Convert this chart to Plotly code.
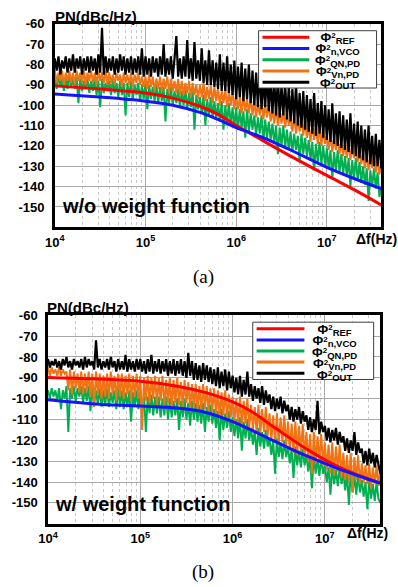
import plotly.graph_objects as go

# ---------------- data ----------------
# shared frequency grid (log10 of offset frequency in Hz), 4.00 ... 7.60
F_EXP = [4.00,4.02,4.04,4.06,4.08,4.10,4.12,4.14,4.16,4.18,
         4.20,4.22,4.24,4.26,4.28,4.30,4.32,4.34,4.36,4.38,
         4.40,4.42,4.44,4.46,4.48,4.50,4.52,4.54,4.56,4.58,
         4.60,4.62,4.64,4.66,4.68,4.70,4.72,4.74,4.76,4.78,
         4.80,4.82,4.84,4.86,4.88,4.90,4.92,4.94,4.96,4.98,
         5.00,5.02,5.04,5.06,5.08,5.10,5.12,5.14,5.16,5.18,
         5.20,5.22,5.24,5.26,5.28,5.30,5.32,5.34,5.36,5.38,
         5.40,5.42,5.44,5.46,5.48,5.50,5.52,5.54,5.56,5.58,
         5.60,5.62,5.64,5.66,5.68,5.70,5.72,5.74,5.76,5.78,
         5.80,5.82,5.84,5.86,5.88,5.90,5.92,5.94,5.96,5.98,
         6.00,6.02,6.04,6.06,6.08,6.10,6.12,6.14,6.16,6.18,
         6.20,6.22,6.24,6.26,6.28,6.30,6.32,6.34,6.36,6.38,
         6.40,6.42,6.44,6.46,6.48,6.50,6.52,6.54,6.56,6.58,
         6.60,6.62,6.64,6.66,6.68,6.70,6.72,6.74,6.76,6.78,
         6.80,6.82,6.84,6.86,6.88,6.90,6.92,6.94,6.96,6.98,
         7.00,7.02,7.04,7.06,7.08,7.10,7.12,7.14,7.16,7.18,
         7.20,7.22,7.24,7.26,7.28,7.30,7.32,7.34,7.36,7.38,
         7.40,7.42,7.44,7.46,7.48,7.50,7.52,7.54,7.56,7.58,
         7.60]

# (a) w/o weight function
OUT_A = [-77,-83,-76,-85,-78,-82,-76,-84,-77,-83,
         -75,-84,-77,-82,-76,-85,-77,-83,-76,-84,
         -76,-83,-77,-85,-75,-84,-62,-85,-76,-84,
         -77,-83,-76,-85,-77,-84,-75,-83,-76,-85,
         -77,-84,-76,-85,-77,-84,-76,-85,-72,-86,
         -76,-85,-77,-86,-76,-84,-77,-86,-76,-85,
         -70,-86,-77,-85,-76,-87,-77,-66,-86,-77,
         -87,-76,-86,-68,-87,-77,-88,-69,-87,-78,
         -88,-72,-89,-78,-90,-73,-90,-78,-91,-79,
         -92,-75,-93,-79,-93,-76,-94,-80,-95,-78,
         -97,-81,-96,-79,-98,-82,-97,-80,-99,-83,
         -100,-84,-101,-82,-102,-86,-101,-84,-103,-87,
         -104,-88,-105,-86,-106,-90,-105,-89,-107,-91,
         -108,-92,-109,-89,-110,-94,-111,-93,-112,-95,
         -113,-97,-114,-94,-115,-99,-114,-98,-116,-100,
         -117,-102,-118,-99,-119,-104,-120,-103,-121,-105,
         -122,-107,-123,-104,-124,-109,-125,-108,-126,-110,
         -127,-112,-128,-110,-129,-115,-130,-114,-130,-117,
         -131]
VN_A = [-83,-89,-84,-88,-83,-90,-84,-88,-83,-89,
        -84,-90,-83,-88,-84,-89,-83,-90,-84,-88,
        -83,-89,-84,-90,-83,-88,-84,-89,-83,-90,
        -84,-89,-85,-90,-84,-88,-85,-91,-84,-89,
        -85,-90,-84,-91,-85,-89,-84,-90,-86,-91,
        -86,-92,-85,-91,-86,-93,-87,-92,-86,-93,
        -87,-92,-86,-94,-87,-93,-88,-94,-87,-95,
        -88,-95,-89,-94,-88,-96,-89,-95,-90,-97,
        -90,-96,-89,-98,-91,-97,-90,-99,-91,-98,
        -92,-100,-93,-99,-92,-101,-94,-100,-93,-102,
        -95,-102,-96,-104,-95,-103,-97,-104,-96,-105,
        -98,-106,-99,-105,-98,-107,-100,-106,-99,-108,
        -102,-109,-101,-110,-103,-109,-102,-111,-104,-110,
        -106,-113,-105,-114,-107,-113,-106,-115,-108,-116,
        -110,-118,-109,-117,-111,-119,-110,-120,-112,-119,
        -115,-122,-114,-123,-116,-122,-115,-124,-117,-125,
        -119,-126,-118,-127,-120,-126,-119,-128,-121,-129,
        -124,-131,-123,-132,-125,-131,-124,-133,-126,-134,
        -129]
QN_A = [-86,-92,-85,-91,-87,-93,-86,-92,-85,-91,
        -87,-92,-86,-99,-87,-93,-88,-92,-87,-94,
        -88,-93,-87,-95,-88,-101,-87,-94,-89,-93,
        -88,-95,-87,-94,-89,-96,-88,-95,-89,-105,
        -89,-96,-88,-97,-90,-95,-89,-98,-90,-97,
        -89,-102,-90,-97,-91,-98,-90,-99,-91,-98,
        -91,-108,-92,-99,-91,-100,-93,-99,-92,-101,
        -93,-100,-92,-102,-94,-101,-93,-112,-95,-102,
        -96,-104,-95,-110,-97,-105,-96,-106,-98,-107,
        -99,-108,-98,-112,-100,-109,-99,-110,-101,-111,
        -101,-112,-102,-111,-103,-116,-102,-113,-104,-112,
        -105,-115,-106,-114,-105,-118,-107,-116,-108,-117,
        -109,-119,-110,-124,-111,-120,-110,-121,-112,-122,
        -113,-123,-114,-122,-115,-128,-114,-124,-116,-125,
        -117,-127,-118,-132,-119,-128,-118,-129,-120,-130,
        -121,-131,-122,-136,-123,-132,-122,-133,-124,-134,
        -125,-135,-126,-140,-127,-136,-126,-137,-128,-138,
        -130,-139,-131,-147,-132,-140,-131,-141,-133,-145,
        -141]
SM_EXP_A = [4.0, 4.5, 5.0, 5.3, 5.6, 5.8, 6.0, 6.3, 6.6, 7.0, 7.3, 7.6]
REF_A = [-90.5, -92, -94, -96.5, -100.5, -104.5, -110, -117.5, -125, -134.5, -141.5, -149]
VCO_A = [-94.5, -96, -98, -100, -103.5, -107, -111, -116, -122, -130.5, -136, -141]

# (b) w/ weight function
OUT_B = [-81,-85,-82,-84,-81,-85,-82,-86,-81,-84,
         -80,-85,-82,-86,-81,-84,-82,-85,-81,-86,
         -80,-85,-81,-84,-82,-86,-72,-85,-81,-86,
         -82,-85,-81,-86,-80,-85,-82,-87,-81,-86,
         -82,-86,-79,-87,-81,-86,-82,-87,-81,-86,
         -81,-87,-82,-88,-81,-87,-79,-88,-82,-87,
         -81,-88,-82,-87,-81,-89,-82,-88,-81,-89,
         -82,-88,-81,-89,-82,-90,-78,-89,-82,-91,
         -83,-91,-84,-92,-83,-91,-84,-92,-85,-93,
         -86,-94,-85,-95,-87,-94,-86,-96,-87,-95,
         -89,-97,-90,-98,-89,-99,-91,-98,-87,-99,
         -93,-101,-94,-100,-95,-102,-94,-103,-96,-102,
         -98,-105,-99,-106,-100,-105,-99,-107,-101,-106,
         -103,-110,-104,-111,-105,-110,-104,-112,-106,-111,
         -108,-115,-109,-116,-110,-115,-101,-117,-111,-116,
         -113,-120,-114,-121,-115,-120,-114,-122,-116,-121,
         -118,-125,-119,-126,-120,-125,-116,-127,-121,-126,
         -124,-131,-125,-132,-124,-131,-126,-133,-127,-132,
         -136]
VN_B = [-85,-89,-85,-88,-86,-89,-85,-89,-86,-88,
        -87,-96,-86,-98,-87,-95,-88,-97,-87,-98,
        -88,-97,-87,-99,-88,-104,-87,-98,-88,-100,
        -89,-99,-88,-100,-87,-98,-89,-101,-88,-99,
        -88,-100,-89,-98,-88,-101,-89,-99,-88,-100,
        -89,-115,-90,-101,-89,-102,-90,-100,-89,-103,
        -90,-101,-89,-104,-91,-102,-90,-105,-91,-102,
        -90,-103,-92,-104,-91,-102,-92,-105,-93,-104,
        -93,-105,-94,-106,-93,-105,-94,-107,-95,-106,
        -95,-108,-96,-109,-97,-108,-96,-110,-98,-109,
        -99,-111,-100,-112,-99,-113,-101,-112,-100,-114,
        -103,-115,-104,-116,-103,-117,-105,-116,-104,-118,
        -107,-120,-108,-121,-107,-122,-109,-121,-108,-123,
        -111,-125,-112,-126,-111,-127,-113,-126,-112,-128,
        -116,-130,-117,-136,-116,-131,-118,-130,-117,-132,
        -121,-134,-122,-136,-121,-137,-123,-135,-122,-138,
        -126,-139,-127,-140,-126,-145,-128,-139,-127,-141,
        -131,-140,-132,-141,-131,-143,-133,-141,-132,-142,
        -134]
QN_B = [-96,-100,-95,-99,-96,-101,-95,-105,-96,-100,
        -94,-116,-95,-100,-94,-101,-95,-99,-94,-102,
        -95,-101,-94,-106,-95,-102,-96,-103,-95,-104,
        -96,-103,-95,-104,-97,-102,-96,-105,-95,-104,
        -96,-105,-97,-104,-96,-111,-97,-104,-96,-105,
        -97,-106,-98,-116,-99,-107,-98,-108,-99,-107,
        -99,-109,-100,-108,-99,-110,-100,-109,-101,-108,
        -100,-115,-101,-109,-100,-110,-102,-113,-101,-110,
        -102,-111,-103,-112,-102,-116,-104,-111,-103,-112,
        -105,-114,-106,-120,-105,-115,-107,-114,-106,-116,
        -109,-118,-110,-119,-109,-125,-111,-119,-110,-120,
        -114,-122,-115,-127,-114,-123,-116,-124,-115,-123,
        -119,-127,-120,-136,-119,-128,-121,-129,-120,-128,
        -123,-131,-124,-138,-123,-132,-125,-133,-124,-132,
        -127,-135,-128,-143,-127,-136,-129,-137,-128,-136,
        -132,-140,-133,-146,-132,-141,-134,-142,-133,-141,
        -135,-144,-136,-151,-135,-145,-137,-146,-136,-145,
        -139,-147,-140,-153,-139,-148,-141,-149,-140,-148,
        -150]
SM_EXP_B = [4.0, 4.5, 5.0, 5.4, 5.7, 6.0, 6.2, 6.46, 6.81, 7.17, 7.6]
REF_B = [-89.8, -90.5, -91.6, -94, -97, -101.5, -106, -114, -124.4, -133.2, -140.5]
VCO_B = [-100.5, -102.5, -103.5, -104.5, -106.5, -111, -115, -120.5, -127.6, -134, -140.5]

X_TICKS = [1e4, 1e5, 1e6, 1e7]
X_TICK_TEXT = ["10<sup>4</sup>", "10<sup>5</sup>", "10<sup>6</sup>", "10<sup>7</sup>"]
Y_TICKS = [-150, -140, -130, -120, -110, -100, -90, -80, -70, -60]
Y_TICK_TEXT = [str(v) for v in Y_TICKS]

LEG_SUBS = ["REF", "n,VCO", "QN,PD", "Vn,PD", "OUT"]
COL = {"REF": "#ff0000", "VCO": "#1414ff", "QN": "#00b050", "VN": "#f07414", "OUT": "#000000"}
LEG_COLS = [COL["REF"], COL["VCO"], COL["QN"], COL["VN"], COL["OUT"]]

for arr in (OUT_A, VN_A, QN_A, OUT_B, VN_B, QN_B):
    assert len(arr) == len(F_EXP), len(arr)

W, H = 398, 587
def px(x):
    return x / W
def py(y):
    return 1 - y / H
def hz(exps):
    return [10 ** e for e in exps]

FONT = "Liberation Sans"
fig = go.Figure()

panels = [
    ("x", "y", OUT_A, VN_A, QN_A, SM_EXP_A, REF_A, VCO_A),
    ("x2", "y2", OUT_B, VN_B, QN_B, SM_EXP_B, REF_B, VCO_B),
]
for xa, ya, out, vn, qn, smx, ref, vco in panels:
    fx = hz(F_EXP)
    fig.add_trace(go.Scatter(x=fx, y=qn, xaxis=xa, yaxis=ya, mode="lines",
                             line=dict(color=COL["QN"], width=2), name="QN,PD", showlegend=False))
    fig.add_trace(go.Scatter(x=fx, y=vn, xaxis=xa, yaxis=ya, mode="lines",
                             line=dict(color=COL["VN"], width=2), name="Vn,PD", showlegend=False))
    fig.add_trace(go.Scatter(x=fx, y=out, xaxis=xa, yaxis=ya, mode="lines",
                             line=dict(color=COL["OUT"], width=2.2), name="OUT", showlegend=False))
    fig.add_trace(go.Scatter(x=hz(smx), y=ref, xaxis=xa, yaxis=ya, mode="lines",
                             line=dict(color=COL["REF"], width=3, shape="spline"), name="REF", showlegend=False))
    fig.add_trace(go.Scatter(x=hz(smx), y=vco, xaxis=xa, yaxis=ya, mode="lines",
                             line=dict(color=COL["VCO"], width=3, shape="spline"), name="n,VCO", showlegend=False))

def xaxis_cfg(domain, anchor):
    return dict(domain=domain, anchor=anchor, type="log", range=[4, 7.602],
                tickvals=X_TICKS, ticktext=X_TICK_TEXT, ticks="",
                tickfont=dict(family=FONT, size=13, color="black", weight="bold"),
                showgrid=True, gridcolor="#a8a8a8", gridwidth=1,
                minor=dict(showgrid=True, gridcolor="#c8c8c8", griddash="dot", dtick="D1", gridwidth=1),
                showline=True, linecolor="black", linewidth=2.5, mirror=True, zeroline=False,
                ticklabelstandoff=1)

def yaxis_cfg(domain, anchor):
    return dict(domain=domain, anchor=anchor, range=[-160, -60],
                tickvals=Y_TICKS, ticktext=Y_TICK_TEXT, ticks="",
                tickfont=dict(family=FONT, size=13, color="black", weight="bold"),
                showgrid=True, gridcolor="#a8a8a8", gridwidth=1,
                showline=True, linecolor="black", linewidth=2.5, mirror=True, zeroline=False,
                ticklabelstandoff=5)

shapes = []
annotations = []

def add_text(text, x, y, size, xanchor="left", yanchor="middle", family=FONT, bold=True):
    annotations.append(dict(text=text, x=px(x), y=py(y), xref="paper", yref="paper",
                            xanchor=xanchor, yanchor=yanchor, showarrow=False,
                            borderpad=0, borderwidth=0,
                            font=dict(family=family, size=size, color="black",
                                      weight="bold" if bold else "normal")))

LEG_STEP = 11.4  # px between legend rows

def add_legend(box, lx0, lx1, phi_x, ys):
    x0, x1, y0, y1 = box
    shapes.append(dict(type="rect", xref="paper", yref="paper",
                       x0=px(x0), x1=px(x1), y0=py(y1), y1=py(y0),
                       line=dict(color="#404040", width=1), fillcolor="white"))
    for col, yy in zip(LEG_COLS, ys):
        shapes.append(dict(type="line", xref="paper", yref="paper",
                           x0=px(lx0), x1=px(lx1), y0=py(yy), y1=py(yy),
                           line=dict(color=col, width=3)))
    rows = ["<span style='font-size:13px'>Φ</span><sup><span style='font-size:8px'>2</span></sup>"
            "<sub><span style='font-size:9.5px'>" + s + "</span></sub>" for s in LEG_SUBS]
    # one multi-line text block; base font size sets the row pitch (1.3 em)
    add_text("<br>".join(rows), phi_x, ys[0] + 5 - 11.8, LEG_STEP / 1.3, yanchor="top")

# panel (a)
add_legend((255, 376, 24, 82), 259, 307, 313, [30.5, 41.9, 53.3, 64.7, 76.1])
add_text("PN(dBc/Hz)", 46, 10, 15)
add_text("Δf(Hz)", 397, 235, 14, xanchor="right")
add_text("w/o weight function", 53, 201, 20)
add_text("(a)", 198, 273, 19, xanchor="center", family="Liberation Serif", bold=False)

# panel (b)
add_legend((249, 373, 319, 377), 253, 302, 310, [325.7, 336.9, 348.2, 359.4, 370.7])
add_text("PN(dBc/Hz)", 38, 304, 15)
add_text("Δf(Hz)", 388, 532, 14, xanchor="right")
add_text("w/ weight function", 46, 503, 20)
add_text("(b)", 198, 572, 19, xanchor="center", family="Liberation Serif", bold=False)

fig.update_layout(
    width=W, height=H, margin=dict(l=0, r=0, t=0, b=0),
    paper_bgcolor="white", plot_bgcolor="white", showlegend=False,
    xaxis=xaxis_cfg([px(46), px(381)], "y"),
    yaxis=yaxis_cfg([py(223), py(17)], "x"),
    xaxis2=xaxis_cfg([px(39), px(380)], "y2"),
    yaxis2=yaxis_cfg([py(523), py(312)], "x2"),
    shapes=shapes, annotations=annotations,
)

fig.write_html("out.html", post_script="document.body.style.margin='0';")
